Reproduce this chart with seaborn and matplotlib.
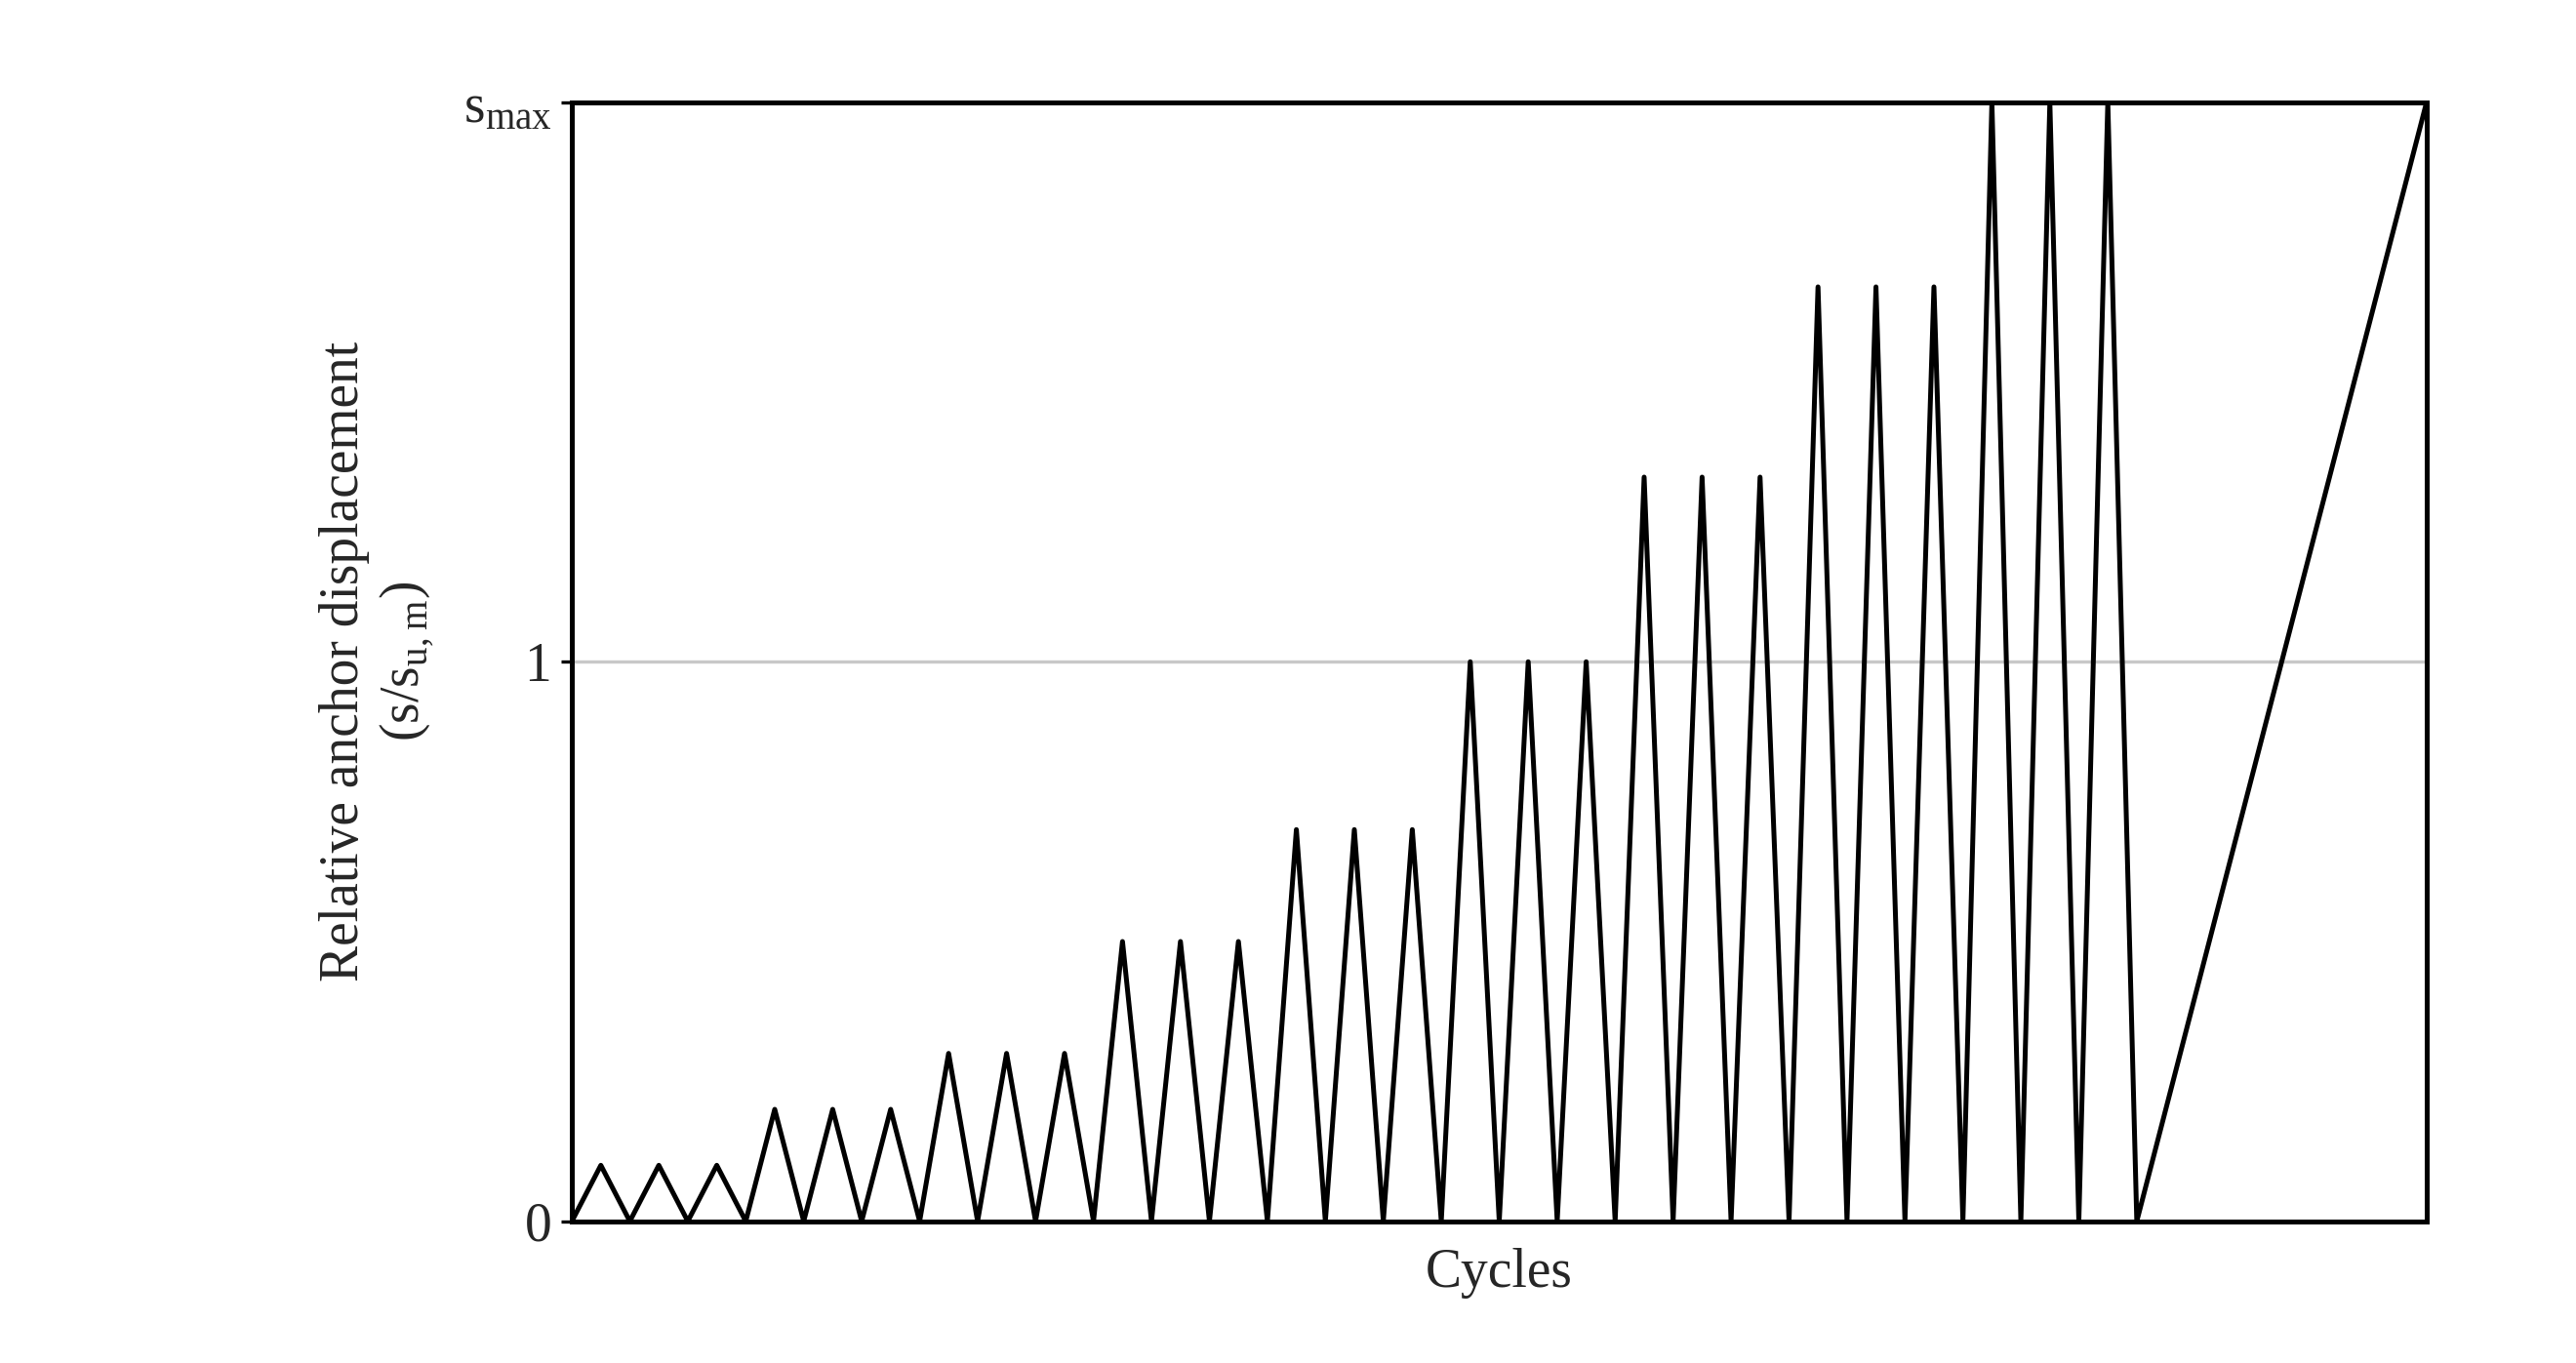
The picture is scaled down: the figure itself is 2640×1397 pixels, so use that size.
import matplotlib
matplotlib.use("Agg")
import matplotlib.pyplot as plt
import seaborn as sns
import pandas as pd

# peak levels (s/s_u,m), three cycles each; s_max = 2.0
levels = [0.1, 0.2, 0.3, 0.5, 0.7, 1.0, 1.33, 1.67, 2.0]
cycles_per_level = 3
ramp_length = 5.0  # final monotonic ramp, in cycle units
ytick_vals = [0, 1, 2.0]
ytick_labels = ["0", "1", r"$\mathregular{s_{max}}$"]

xs, ys = [0.0], [0.0]
t = 0.0
for lv in levels:
    for _ in range(cycles_per_level):
        xs += [t + 0.5, t + 1.0]
        ys += [lv, 0.0]
        t += 1.0
xs.append(t + ramp_length)
ys.append(levels[-1])
df = pd.DataFrame({"x": xs, "y": ys})

sns.set_theme(style="white")
plt.rcParams["font.family"] = ["Liberation Serif", "DejaVu Serif"]
plt.rcParams["mathtext.fontset"] = "custom"
plt.rcParams["mathtext.rm"] = "Liberation Serif"

fig = plt.figure(figsize=(13.2, 6.985), dpi=200)
ax = fig.add_axes([0.222, 0.104, 0.72, 0.821])
ax.axhline(1, color="#c8c8c8", lw=1.2, zorder=0)
sns.lineplot(data=df, x="x", y="y", ax=ax, color="black", lw=1.8, sort=False, estimator=None)
ax.set_xlim(0, t + ramp_length)
ax.set_ylim(0, levels[-1])
ax.set_xticks([])
ax.set_yticks(ytick_vals)
ax.set_yticklabels(ytick_labels, fontsize=20)
ax.tick_params(axis="y", length=4, width=1.2, color="black", left=True)
for s in ax.spines.values():
    s.set_color("black"); s.set_linewidth(1.8)
ax.set_xlabel("Cycles", fontsize=20, labelpad=10)
ax.set_ylabel("Relative anchor displacement\n" + r"(s/s$_\mathregular{u,m}$)", fontsize=20, labelpad=10)
fig.savefig("out.png", dpi=200)
